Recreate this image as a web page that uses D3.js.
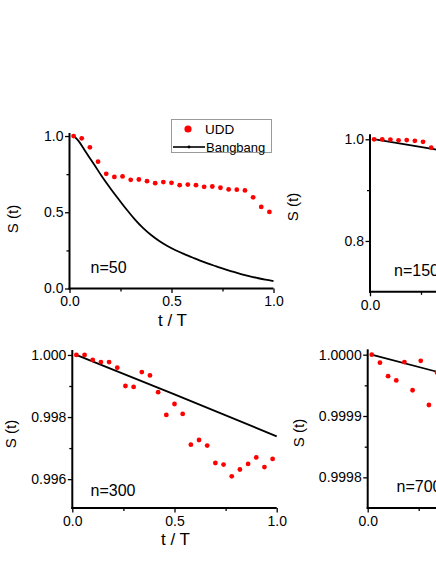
<!DOCTYPE html>
<html>
<head>
<meta charset="utf-8">
<script src="https://cdn.jsdelivr.net/npm/d3@7"></script>
<style>
  html, body { margin: 0; padding: 0; background: #fff; overflow: hidden; }
  svg { display: block; font-family: "Liberation Sans", Arial, sans-serif; }
</style>
</head>
<body>
<svg id="chart" width="436" height="564"></svg>
<script>
// ---- Data ----
const seriesNames = ["UDD", "Bangbang"];
const panelLabels = ["n=50", "n=150", "n=300", "n=700"];

const tUDD = [0.02, 0.06, 0.10, 0.14, 0.18, 0.22, 0.26, 0.30, 0.34, 0.38, 0.42, 0.46, 0.50,
              0.54, 0.58, 0.62, 0.66, 0.70, 0.74, 0.78, 0.82, 0.86, 0.90, 0.94, 0.98];

// n = 50
const udd50 = [1.000, 0.985, 0.926, 0.832, 0.752, 0.732, 0.735, 0.713, 0.715, 0.704, 0.691, 0.698, 0.693,
               0.678, 0.682, 0.678, 0.667, 0.669, 0.661, 0.650, 0.648, 0.643, 0.598, 0.535, 0.502];
const tBang50 = [0.02, 0.04, 0.08, 0.12, 0.16, 0.20, 0.24, 0.28, 0.32, 0.36, 0.40, 0.44, 0.48,
                 0.52, 0.56, 0.60, 0.64, 0.68, 0.72, 0.76, 0.80, 0.84, 0.88, 0.92, 0.96, 1.00];
const bang50 = [1.000, 0.975, 0.895, 0.815, 0.733, 0.658, 0.587, 0.518, 0.454, 0.398, 0.351, 0.312, 0.279,
                0.251, 0.227, 0.205, 0.183, 0.163, 0.145, 0.127, 0.111, 0.095, 0.081, 0.069, 0.058, 0.049];

// n = 150 (only the left part is visible)
const tUDD150 = [0.02, 0.06, 0.10, 0.14, 0.18, 0.22, 0.26, 0.30];
const udd150 = [1.000, 1.000, 0.9995, 0.998, 0.9985, 0.997, 0.995, 0.9835];
const tBang150 = [0.02, 0.32, 1.00];
const bang150 = [1.000, 0.980, 0.936];

// n = 300
const udd300 = [1.00000, 1.00000, 0.99984, 0.99977, 0.99977, 0.99959, 0.99900, 0.99897, 0.99945, 0.99934,
                0.99880, 0.99807, 0.99842, 0.99810, 0.99711, 0.99726, 0.99708, 0.99652, 0.99647, 0.99609,
                0.99631, 0.99649, 0.99670, 0.99639, 0.99665];
const tBang300 = [0.02, 0.50, 1.00];
const bang300 = [1.00000, 0.99873, 0.99738];

// n = 700 (only the left part is visible)
const tUDD700 = [0.02, 0.06, 0.10, 0.14, 0.18, 0.22, 0.26, 0.30, 0.34];
const udd700 = [1.000000, 0.999987, 0.999965, 0.999958, 0.999988, 0.999942, 0.999990, 0.999918, 0.999971];
const tBang700 = [0.02, 0.33, 1.00];
const bang700 = [1.000000, 0.999973, 0.999917];

// Tick values / labels
const xMajor = [0, 0.5, 1.0];
const xMajorLabels = ["0.0", "0.5", "1.0"];
const xMinor = [0.25, 0.75];

const yMajor50 = [0, 0.5, 1.0], yLabels50 = ["0.0", "0.5", "1.0"], yMinor50 = [0.25, 0.75];
const yMajor150 = [0.8, 1.0], yLabels150 = ["0.8", "1.0"], yMinor150 = [0.9];
const yMajor300 = [0.996, 0.998, 1.000], yLabels300 = ["0.996", "0.998", "1.000"], yMinor300 = [0.997, 0.999];
const yMajor700 = [0.9998, 0.9999, 1.0000], yLabels700 = ["0.9998", "0.9999", "1.0000"], yMinor700 = [0.99985, 0.99995];

// ---- Layout (positions kept separate from data) ----
const panels = [
  { x0: 69.5, x1: 273.5, yTop: 133, yBot: 288.5, yDom: [0, 1.02],
    udd: [tUDD, udd50], bang: [tBang50, bang50],
    yMajor: yMajor50, yLabels: yLabels50, yMinor: yMinor50, label: panelLabels[0],
    labelPos: [90.5, 272.5], yTitle: [13, 219], xTitle: true },
  { x0: 370, x1: 574, yTop: 134.2, yBot: 291.8, yDom: [0.7, 1.01],
    udd: [tUDD150, udd150], bang: [tBang150, bang150],
    yMajor: yMajor150, yLabels: yLabels150, yMinor: yMinor150, label: panelLabels[1],
    labelPos: [394, 276], yTitle: [292.5, 207], xTitle: false },
  { x0: 72.3, x1: 276.7, yTop: 350, yBot: 508, yDom: [0.99507, 1.00016],
    udd: [tUDD, udd300], bang: [tBang300, bang300],
    yMajor: yMajor300, yLabels: yLabels300, yMinor: yMinor300, label: panelLabels[2],
    labelPos: [90.5, 495.5], yTitle: [11, 434], xTitle: true },
  { x0: 367.7, x1: 571.7, yTop: 349.3, yBot: 508, yDom: [0.999750, 1.0000088],
    udd: [tUDD700, udd700], bang: [tBang700, bang700],
    yMajor: yMajor700, yLabels: yLabels700, yMinor: yMinor700, label: panelLabels[3],
    labelPos: [396.5, 491.5], yTitle: [299, 433], xTitle: false }
];

const svg = d3.select("#chart");

panels.forEach(p => {
  const x = d3.scaleLinear().domain([0, 1]).range([p.x0, p.x1]);
  const y = d3.scaleLinear().domain(p.yDom).range([p.yBot, p.yTop]);
  const g = svg.append("g");

  // Bangbang line
  const line = d3.line().x((d, i) => x(p.bang[0][i])).y(d => y(d)).curve(d3.curveMonotoneX);
  g.append("path").datum(p.bang[1])
    .attr("d", line)
    .attr("fill", "none").attr("stroke", "#000").attr("stroke-width", 1.8)
    .attr("stroke-linejoin", "round");

  // UDD dots
  g.selectAll("circle.udd").data(p.udd[1]).join("circle")
    .attr("class", "udd")
    .attr("cx", (d, i) => x(p.udd[0][i]))
    .attr("cy", d => y(d))
    .attr("r", 2.4)
    .attr("fill", "#ff0000");

  // Y axis (major)
  const yAx = g.append("g").attr("transform", `translate(${p.x0},0)`)
    .call(d3.axisLeft(y).tickValues(p.yMajor)
      .tickFormat((d, i) => p.yLabels[i]).tickSize(4.5).tickPadding(1.5));
  yAx.select(".domain").remove();
  yAx.selectAll("line").attr("stroke", "#000").attr("stroke-width", 1.3);
  yAx.selectAll("text").attr("font-size", 14).attr("fill", "#000")
    .attr("font-family", "'Liberation Sans', Arial, sans-serif");

  // Y axis minor
  const yMin = g.append("g").attr("transform", `translate(${p.x0},0)`)
    .call(d3.axisLeft(y).tickValues(p.yMinor).tickFormat("").tickSize(3));
  yMin.select(".domain").remove();
  yMin.selectAll("line").attr("stroke", "#000").attr("stroke-width", 1.3);

  // X axis (major)
  const xAx = g.append("g").attr("transform", `translate(0,${p.yBot})`)
    .call(d3.axisBottom(x).tickValues(xMajor)
      .tickFormat((d, i) => xMajorLabels[i]).tickSize(4.5).tickPadding(3.5));
  xAx.select(".domain").remove();
  xAx.selectAll("line").attr("stroke", "#000").attr("stroke-width", 1.3);
  xAx.selectAll("text").attr("font-size", 14).attr("fill", "#000")
    .attr("font-family", "'Liberation Sans', Arial, sans-serif");

  const xMin = g.append("g").attr("transform", `translate(0,${p.yBot})`)
    .call(d3.axisBottom(x).tickValues(xMinor).tickFormat("").tickSize(3));
  xMin.select(".domain").remove();
  xMin.selectAll("line").attr("stroke", "#000").attr("stroke-width", 1.3);

  // Axis lines
  g.append("line").attr("x1", p.x0).attr("x2", p.x0).attr("y1", p.yTop).attr("y2", p.yBot + 1)
    .attr("stroke", "#000").attr("stroke-width", 2);
  g.append("line").attr("x1", p.x0 - 1).attr("x2", p.x1).attr("y1", p.yBot).attr("y2", p.yBot)
    .attr("stroke", "#000").attr("stroke-width", 2);

  // Panel label
  g.append("text").attr("x", p.labelPos[0]).attr("y", p.labelPos[1])
    .attr("font-size", 16).attr("fill", "#000").text(p.label);

  // Y title
  g.append("text")
    .attr("transform", `translate(${p.yTitle[0] + 5},${p.yTitle[1]}) rotate(-90)`)
    .attr("text-anchor", "middle").attr("font-size", 15).attr("fill", "#000")
    .text("S (t)");

  // X title
  if (p.xTitle) {
    g.append("text").attr("x", (p.x0 + p.x1) / 2 + 1).attr("y", p.yBot + 37)
      .attr("text-anchor", "middle").attr("font-size", 17).attr("fill", "#000")
      .text("t / T");
  }
});

// ---- Legend (panel 1) ----
const lg = svg.append("g");
lg.append("rect").attr("x", 171.5).attr("y", 119.5).attr("width", 100).attr("height", 33)
  .attr("fill", "#fff").attr("stroke", "#9a9a9a").attr("stroke-width", 1);
lg.append("circle").attr("cx", 188).attr("cy", 129).attr("r", 3.6).attr("fill", "#ff0000");
lg.append("text").attr("x", 205).attr("y", 134).attr("font-size", 13.5).attr("fill", "#000").text(seriesNames[0]);
lg.append("line").attr("x1", 173).attr("x2", 205).attr("y1", 147).attr("y2", 147)
  .attr("stroke", "#000").attr("stroke-width", 1.6);
lg.append("circle").attr("cx", 189).attr("cy", 147).attr("r", 1.4).attr("fill", "#000");
lg.append("text").attr("x", 206).attr("y", 151.5).attr("font-size", 13).attr("fill", "#000").text(seriesNames[1]);
</script>
</body>
</html>
